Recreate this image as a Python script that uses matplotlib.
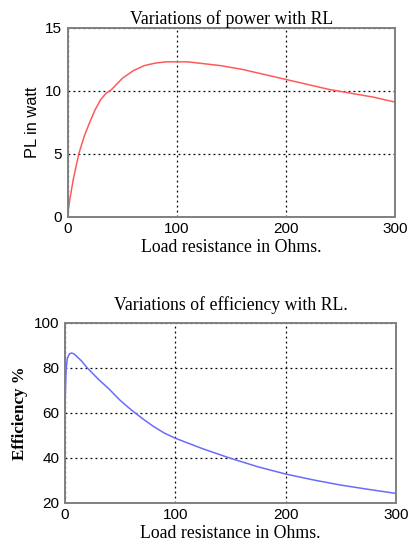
import matplotlib
matplotlib.use("Agg")
import matplotlib.pyplot as plt

# power vs load resistance
rl_power = [0, 2, 5, 10, 15, 20, 25, 30, 35, 40, 50, 60, 70, 80, 90, 100,
            110, 120, 140, 160, 180, 200, 220, 240, 260, 280, 300]
power_w = [0.3, 1.5, 3.0, 5.0, 6.4, 7.5, 8.5, 9.3, 9.8, 10.1, 11.0, 11.6, 12.0,
           12.2, 12.3, 12.3, 12.3, 12.2, 12.0, 11.7, 11.3, 10.9, 10.5, 10.1,
           9.8, 9.5, 9.1]

# efficiency vs load resistance
rl_eff = [0, 0.5, 1, 2, 4, 6, 8, 10, 15, 20, 30, 40, 50, 60, 70, 80, 90, 100,
          125, 150, 175, 200, 225, 250, 275, 300]
efficiency = [63, 72, 79, 84, 86.2, 86.5, 86.2, 85.3, 83, 80, 75, 70.5, 65.5,
              61.3, 57.5, 54, 51, 48.7, 44, 39.8, 36, 32.8, 30.2, 27.9, 26, 24.2]

serif = "Liberation Serif"
sans = "Liberation Sans"


def style_axes(ax):
    """MATLAB-like look: grey box, dotted black grid, no tick marks."""
    for s in ax.spines.values():
        s.set_color("#808080")
        s.set_linewidth(1.4)
    ax.tick_params(length=0, labelsize=11, pad=4)
    for lbl in ax.get_xticklabels() + ax.get_yticklabels():
        lbl.set_family(sans)
    ax.grid(True, linestyle=(0, (1.5, 2.5)), color="black", linewidth=0.9)
    ax.set_axisbelow(True)


fig = plt.figure(figsize=(4.09, 5.46), dpi=100)

# top panel - power
ax1 = fig.add_axes([0.166, 0.603, 0.800, 0.346])
ax1.plot(rl_power, power_w, color="#ff5a5a", linewidth=1.1)
ax1.set_xlim(0, 300)
ax1.set_ylim(0, 15)
ax1.set_xticks([0, 100, 200, 300])
ax1.set_yticks([0, 5, 10, 15])
style_axes(ax1)
ax1.set_title("Variations of power with RL", family=serif, fontsize=12.8, pad=1)
ax1.set_xlabel("Load resistance in Ohms.", family=serif, fontsize=12.8, labelpad=2)
ax1.set_ylabel("PL in watt", family=sans, fontsize=11.8, labelpad=4)

# bottom panel - efficiency
ax2 = fig.add_axes([0.159, 0.079, 0.809, 0.330])
ax2.plot(rl_eff, efficiency, color="#6a6aff", linewidth=1.1)
ax2.set_xlim(0, 300)
ax2.set_ylim(20, 100)
ax2.set_xticks([0, 100, 200, 300])
ax2.set_yticks([20, 40, 60, 80, 100])
style_axes(ax2)
ax2.set_title("Variations of efficiency with RL.", family=serif, fontsize=12.8, pad=9)
ax2.set_xlabel("Load resistance in Ohms.", family=serif, fontsize=12.8, labelpad=2)
ax2.set_ylabel("Efficiency %", family=serif, fontweight="bold", fontsize=12.2, labelpad=4)

fig.savefig("out.png", dpi=100)
